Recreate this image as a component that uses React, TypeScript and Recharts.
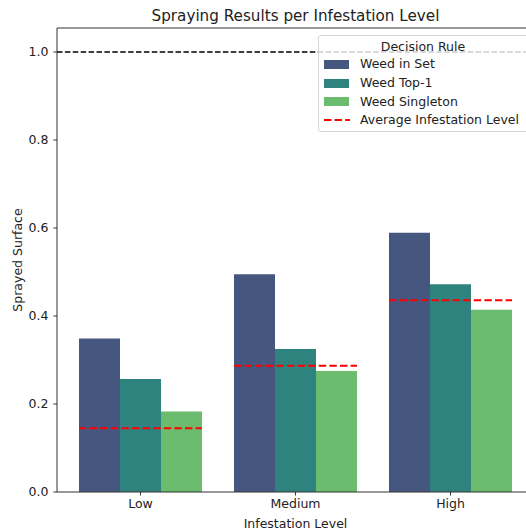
import React from 'react';
import { BarChart, Bar, XAxis, YAxis, ReferenceLine, Legend, Label } from 'recharts';

const CATEGORIES = ['Low', 'Medium', 'High'];
const WEED_IN_SET = [0.349, 0.495, 0.589];
const WEED_TOP1 = [0.257, 0.325, 0.472];
const WEED_SINGLETON = [0.183, 0.275, 0.414];
const AVG_INFESTATION = [0.145, 0.287, 0.436];
const Y_TICKS = [0, 0.2, 0.4, 0.6, 0.8, 1.0];
const Y_MAX = 1.0545;
const REF_LEVEL = 1.0;
const SERIES_NAMES = ['Weed in Set', 'Weed Top-1', 'Weed Singleton'];
const AVG_NAME = 'Average Infestation Level';
const LEGEND_TITLE = 'Decision Rule';
const TITLE = 'Spraying Results per Infestation Level';
const X_LABEL = 'Infestation Level';
const Y_LABEL = 'Sprayed Surface';

const COLORS = ['#45567f', '#2f837f', '#6bbc6e'];
const FONT = '"DejaVu Sans", sans-serif';
const FS = 12.5;
const INK = '#222';
const SPINE = '#333';

const data = CATEGORIES.map((level, i) => ({
  level,
  set: WEED_IN_SET[i],
  top1: WEED_TOP1[i],
  single: WEED_SINGLETON[i],
  avg: AVG_INFESTATION[i],
}));

const RedLine = (props: any) => {
  const { x, y, width } = props;
  if (x == null || y == null) return null;
  return (
    <line x1={x} x2={x + width} y1={y} y2={y} stroke="#ff0000" strokeWidth={2} strokeDasharray="7.4 3.2" />
  );
};

const LegendBox = () => {
  const rows = [0, 1, 2, 3];
  const rowY = [29.3, 48.3, 66.7, 85];
  return (
    <div
      style={{
        position: 'relative',
        boxSizing: 'border-box',
        width: 212,
        height: 97,
        background: 'rgba(255,255,255,0.8)',
        border: '1px solid #d6d6d6',
        borderRadius: 3,
        fontFamily: FONT,
        fontSize: FS,
        color: INK,
      }}
    >
      <div style={{ position: 'absolute', left: 0, width: 208, top: 10.7 - 8, height: 16, lineHeight: '16px', textAlign: 'center', whiteSpace: 'nowrap' }}>
        {LEGEND_TITLE}
      </div>
      {rows.map((r) => {
        const cy = rowY[r] - 1;
        const label = r < 3 ? SERIES_NAMES[r] : AVG_NAME;
        return (
          <React.Fragment key={r}>
            {r < 3 ? (
              <div style={{ position: 'absolute', left: 5, top: cy - 4.5, width: 25, height: 9, background: COLORS[r] }} />
            ) : (
              <svg style={{ position: 'absolute', left: 5, top: cy - 2 }} width={26} height={4}>
                <line x1={0} x2={26} y1={2} y2={2} stroke="#ff0000" strokeWidth={2} strokeDasharray="7.4 3.2" />
              </svg>
            )}
            <div style={{ position: 'absolute', left: 41, top: cy - 8, height: 16, lineHeight: '16px', whiteSpace: 'nowrap' }}>{label}</div>
          </React.Fragment>
        );
      })}
    </div>
  );
};

export default function App() {
  return (
    <div
      style={{
        position: 'absolute',
        left: 0,
        top: 0,
        width: 526,
        height: 530,
        overflow: 'hidden',
        background: '#fff',
        fontFamily: FONT,
      }}
    >
      <div
        style={{
          position: 'absolute',
          left: 95.5,
          width: 400,
          top: 7,
          height: 18,
          lineHeight: '18px',
          textAlign: 'center',
          fontSize: 15.2,
          color: INK,
          whiteSpace: 'nowrap',
          zIndex: 2,
        }}
      >
        {TITLE}
      </div>
      <BarChart
        width={534}
        height={530}
        data={data}
        margin={{ top: 28, right: 0, bottom: 0, left: 0 }}
        barCategoryGap={16}
        barGap={0}
      >
        <XAxis
          xAxisId="main"
          dataKey="level"
          padding={{ left: 6, right: 6 }}
          height={38}
          tickSize={3.5}
          tickMargin={4}
          tick={{ fontSize: FS, fill: INK, fontFamily: FONT }}
          tickLine={{ stroke: SPINE }}
          axisLine={{ stroke: SPINE }}
        >
          <Label
            content={(p: any) => {
              const vb = p.viewBox || {};
              return (
                <text x={vb.x + vb.width / 2} y={527.5} textAnchor="middle" fontSize={FS} fill={INK} fontFamily={FONT}>
                  {X_LABEL}
                </text>
              );
            }}
          />
        </XAxis>
        <XAxis xAxisId="avg" dataKey="level" hide height={0} padding={{ left: 6, right: 6 }} />
        <YAxis
          type="number"
          domain={[0, Y_MAX]}
          ticks={Y_TICKS}
          width={57}
          tickSize={3.5}
          tickMargin={5}
          tickFormatter={(v: number) => v.toFixed(1)}
          tick={{ fontSize: FS, fill: INK, fontFamily: FONT }}
          tickLine={{ stroke: SPINE }}
          axisLine={{ stroke: SPINE }}
        >
          <Label
            content={(p: any) => {
              const vb = p.viewBox || {};
              const cy = vb.y + vb.height / 2;
              return (
                <text x={21.5} y={cy} transform={`rotate(-90 21.5 ${cy})`} textAnchor="middle" fontSize={FS} fill={INK} fontFamily={FONT}>
                  {Y_LABEL}
                </text>
              );
            }}
          />
        </YAxis>
        <ReferenceLine xAxisId="main" y={Y_MAX} stroke={SPINE} strokeWidth={1} />
        <Bar xAxisId="main" dataKey="set" name={SERIES_NAMES[0]} fill={COLORS[0]} isAnimationActive={false} />
        <Bar xAxisId="main" dataKey="top1" name={SERIES_NAMES[1]} fill={COLORS[1]} isAnimationActive={false} />
        <Bar xAxisId="main" dataKey="single" name={SERIES_NAMES[2]} fill={COLORS[2]} isAnimationActive={false} />
        <Bar xAxisId="avg" dataKey="avg" name={AVG_NAME} shape={RedLine} legendType="none" isAnimationActive={false} />
        <ReferenceLine xAxisId="main" y={REF_LEVEL} stroke="#000" strokeWidth={1.5} strokeDasharray="5.5 2.4" />
        <Legend
          layout="horizontal"
          verticalAlign="middle"
          align="center"
          content={() => <LegendBox />}
          wrapperStyle={{ left: 318, top: 35, width: 212, height: 97 }}
        />
      </BarChart>
    </div>
  );
}
